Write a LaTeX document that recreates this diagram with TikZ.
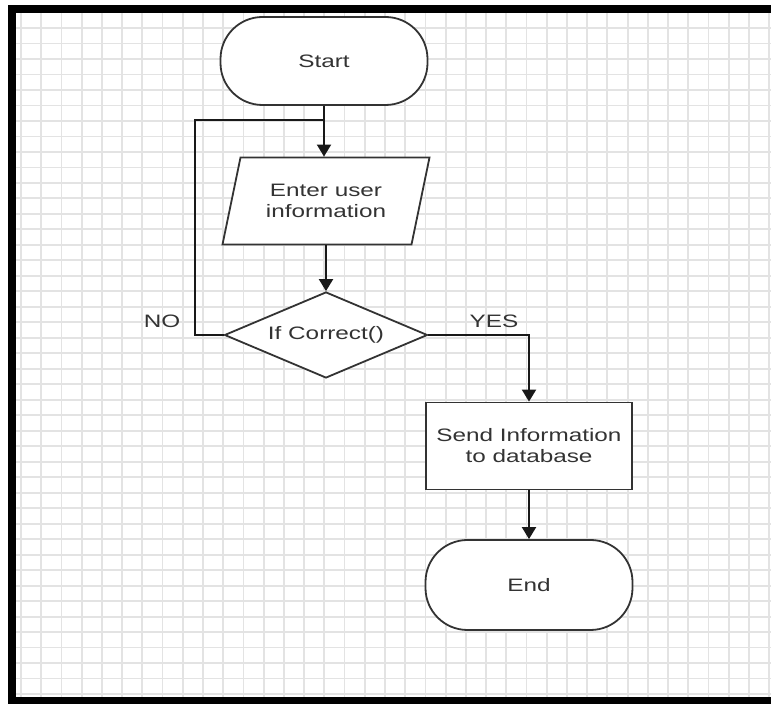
\documentclass[tikz,border=0pt]{standalone}
\usepackage{fontspec}
\setmainfont{Liberation Sans}[FakeStretch=1.35]
\usetikzlibrary{shapes.geometric,arrows.meta}

\tikzset{
    chart/.style={draw=black!80, line width=0.9pt, fill=white, text=black!80, align=center, font=\fontsize{9}{10.5}\selectfont},
    terminal/.style={chart, rounded corners=21pt, minimum width=103.5pt, minimum height=44pt},
    inout/.style={chart, trapezium, trapezium left angle=69, trapezium right angle=111, trapezium stretches body, minimum width=103.5pt, minimum height=43.5pt, inner xsep=0pt},
    decision/.style={chart, diamond, aspect=2.36, minimum width=101.5pt, minimum height=43pt, inner sep=0pt},
    process/.style={chart, rectangle, minimum width=103pt, minimum height=43.5pt},
    flow/.style={line width=1pt, draw=black!90, -{Triangle[width=7pt,length=6pt]}},
    link/.style={line width=1pt, draw=black!90},
    tag/.style={text=black!80, font=\fontsize{9}{10.5}\selectfont},
    gridline/.style={draw=gray!22, line width=0.9pt}
}

\begin{document}
\begin{tikzpicture}[x=0.5pt, y=-0.5pt]
    \useasboundingbox (0,0) rectangle (771,704);

    % squared paper
    \foreach \gx in {0,...,37}
        \draw[gridline] ({21+20.22*\gx},13) -- ({21+20.22*\gx},697);
    \foreach \gy in {0,...,43}
        \draw[gridline] (16,{28+15.49*\gy}) -- (771,{28+15.49*\gy});

    % frame
    \fill[black] (8,5) rectangle (16,704);
    \fill[black] (8,5) rectangle (771,13);
    \fill[black] (8,697) rectangle (771,704);

    \node[terminal] (start) at (324,61) {Start};
    \node[inout] (enter) at (326,201) {Enter user\\information};
    \node[decision] (check) at (326,335) {If Correct()};
    \node[process] (send) at (529,446) {Send Information\\to database};
    \node[terminal, minimum height=45pt] (end) at (529,585) {End};

    \coordinate (nocorner) at (195,120);
    \coordinate (join) at (324,120);

    \draw[flow] (start.south) -- (start.south |- enter.north);
    \draw[link] (check.west) -| (nocorner) -- (join);
    \draw[flow] (enter.south -| check.north) -- (check.north);
    \draw[flow] (check.east) -| (send.north);
    \draw[flow] (send.south) -- (end.north);

    \node[tag] (no) at (162,321) {NO};
    \node[tag] (yes) at (494,321) {YES};
\end{tikzpicture}
\end{document}
